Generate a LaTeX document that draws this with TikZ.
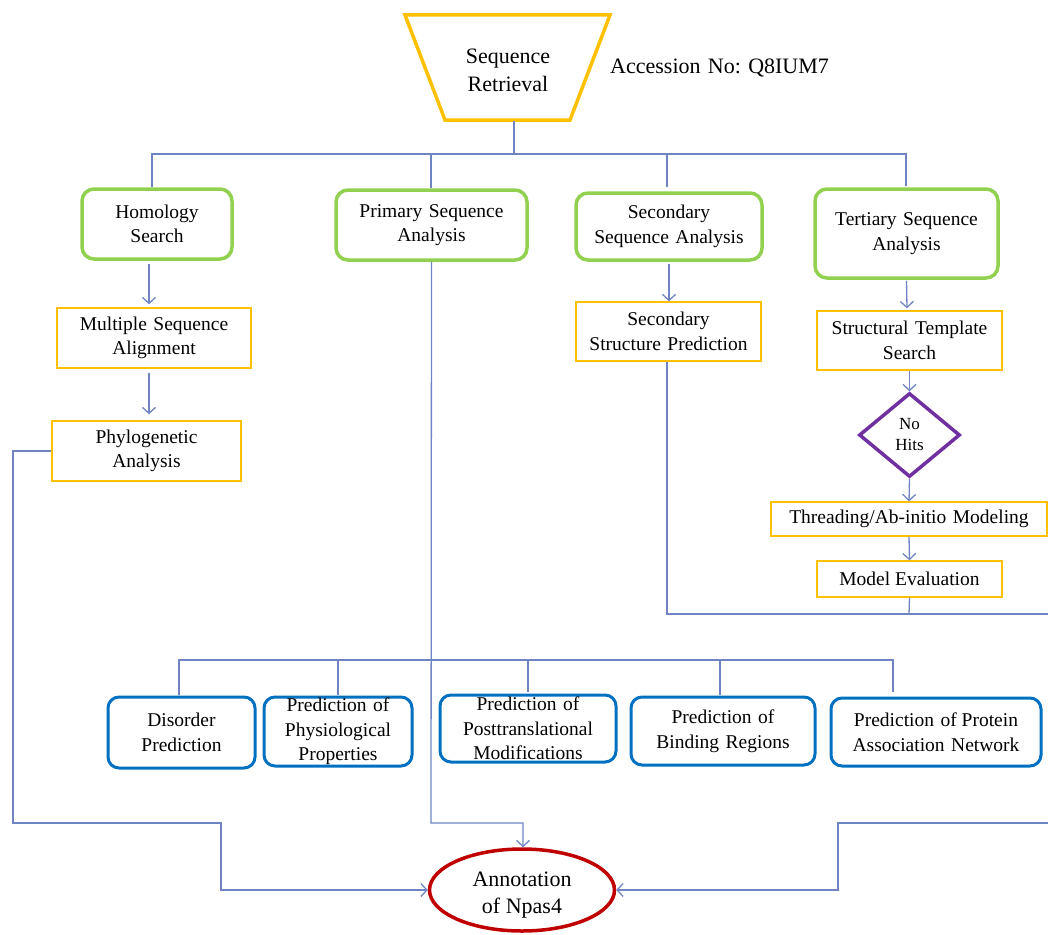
\documentclass[tikz,border=0pt]{standalone}
\usepackage{fontspec}
\setmainfont{Liberation Serif}
\usetikzlibrary{arrows.meta,shapes.geometric}
\definecolor{conn}{RGB}{112,132,196}
\definecolor{gbox}{RGB}{146,208,80}
\definecolor{ybox}{RGB}{255,192,0}
\definecolor{bbox}{RGB}{0,112,192}
\definecolor{pbox}{RGB}{112,48,160}
\definecolor{rbox}{RGB}{192,0,0}
\begin{document}
\begin{tikzpicture}[x=1pt,y=-1pt,
 txt/.style={font=\fontsize{19.5}{24.5}\selectfont, align=center, inner sep=0pt},
 gbx/.style={txt, draw=gbox, line width=3.5pt, rounded corners=12pt},
 ybx/.style={txt, draw=ybox, line width=1.4pt},
 bbx/.style={txt, draw=bbox, line width=3pt, rounded corners=11pt},
 ln/.style={draw=conn, line width=1.3pt},
 arr/.style={ln, -{Straight Barb[length=6pt,width=13pt]}},
]
\useasboundingbox (0,0) rectangle (1048,934);
% top
\draw[draw=ybox, line width=3.5pt, line join=miter] (405,15) -- (610,15) -- (570,120) -- (445,120) -- cycle;
\node[font=\fontsize{22}{28}\selectfont, align=center, inner sep=0pt] (seq) at (508,70) {Sequence\\Retrieval};
\node[font=\fontsize{22}{28}\selectfont, anchor=west, inner sep=0pt] (acc) at (610,68) {Accession\,\,No: Q8IUM7};
\coordinate (seqb) at (514,121);
% level 1
\node[gbx, minimum width=150pt, minimum height=70pt] (hom) at (157,224) {Homology\\Search};
\node[gbx, minimum width=191pt, minimum height=70pt] (pri) at (431.5,225) {Primary\,\,Sequence\\Analysis};
\node[gbx, minimum width=186pt, minimum height=67pt] (sec) at (669,226.5) {Secondary\\Sequence\,\,Analysis};
\node[gbx, minimum width=183pt, minimum height=89pt] (ter) at (906.5,233.5) {Tertiary\,\,Sequence\\Analysis};
\coordinate (busL) at (152,154);
\coordinate (busR) at (906,154);
\draw[ln] (seqb) -- (514,154);
\draw[ln] ([yshift=-33pt]busL) -- (busL) -- (busR) -- ([yshift=-32pt]busR);
\draw[ln] (431,154) -- (431,188);
\draw[ln] (667,154) -- (667,187);
% level 2
\node[ybx, minimum width=194pt, minimum height=60pt] (msa) at (154,338) {Multiple\,\,Sequence\\Alignment};
\node[ybx, minimum width=189pt, minimum height=60pt] (phy) at (146.5,451) {Phylogenetic\\Analysis};
\node[ybx, minimum width=185pt, minimum height=59pt] (ssp) at (668.5,331.5) {Secondary\\Structure\,\,Prediction};
\node[ybx, minimum width=185pt, minimum height=59pt] (sts) at (909.5,340.5) {Structural\,\,Template\\Search};
\node[diamond, draw=pbox, line width=3.5pt, minimum width=101pt, minimum height=84pt, inner sep=0pt, font=\fontsize{17}{21}\selectfont, align=center] (dia) at (909.5,435) {No\\Hits};
\node[ybx, minimum width=276pt, minimum height=34pt] (thr) at (909,519) {Threading/Ab-initio\,\,Modeling};
\node[ybx, minimum width=185pt, minimum height=36pt] (me) at (909.5,579) {Model Evaluation};
\draw[arr] ([xshift=-8pt,yshift=-3pt]hom.south) -- ([xshift=-5pt,yshift=3pt]msa.north);
\draw[arr] ([xshift=-5pt,yshift=-4pt]msa.south) -- ([xshift=2.5pt,yshift=6pt]phy.north);
\draw[arr] ([yshift=-2pt]sec.south) -- ([xshift=0.5pt]ssp.north);
\draw[arr] ([yshift=-1pt]ter.south) -- ([xshift=-2.5pt,yshift=2pt]sts.north);
\draw[arr] (sts.south) -- (dia.north);
\draw[arr] (dia.south) -- (thr.north);
\draw[arr] (thr.south) -- (me.north);
\draw[ln] ([xshift=-1.5pt]ssp.south) -- (667,614) -- (1048,614);
\draw[ln] (me.south) -- (909,614);
% level 3
\node[bbx, minimum width=147pt, minimum height=71pt] (dis) at (181.5,732.5) {Disorder\\Prediction};
\node[bbx, minimum width=148pt, minimum height=69pt] (phs) at (338,731.5) {Prediction\,\,of\\Physiological\\Properties};
\node[bbx, minimum width=176pt, minimum height=67pt] (ptm) at (528,728.5) {Prediction\,\,of\\Posttranslational\\Modifications};
\node[bbx, minimum width=184pt, minimum height=68pt] (bind) at (723,731) {Prediction\,\,of\\Binding\,\,Regions};
\node[bbx, minimum width=210pt, minimum height=68pt] (pan) at (936,732) {Prediction\,\,of Protein\\Association\,\,Network};
\coordinate (bbL) at (179,660);
\coordinate (bbR) at (893,660);
\draw[ln] (179,695) -- (bbL) -- (bbR) -- (893,692);
\draw[ln] (338,660) -- (338,695);
\draw[ln] (528,660) -- (528,692);
\draw[ln] (720,660) -- (720,695);
% annotation
\node[ellipse, draw=rbox, line width=3.5pt, minimum width=185pt, minimum height=82pt, inner sep=0pt] (ann) at (522,890) {};
\node[font=\fontsize{22}{27}\selectfont, align=center, inner sep=0pt] (annt) at (522,895) {Annotation\\of Npas4};
\draw[arr] (pri.south) -- (431,823) -- (523,823) -- ([xshift=1pt]ann.north);
\draw[arr] (phy.west) -- (13,451) -- (13,823) -- (221,823) -- (221,890) -- (ann.west);
\draw[arr] (1048,823) -- (838,823) -- (838,890) -- (ann.east);
\end{tikzpicture}
\end{document}
